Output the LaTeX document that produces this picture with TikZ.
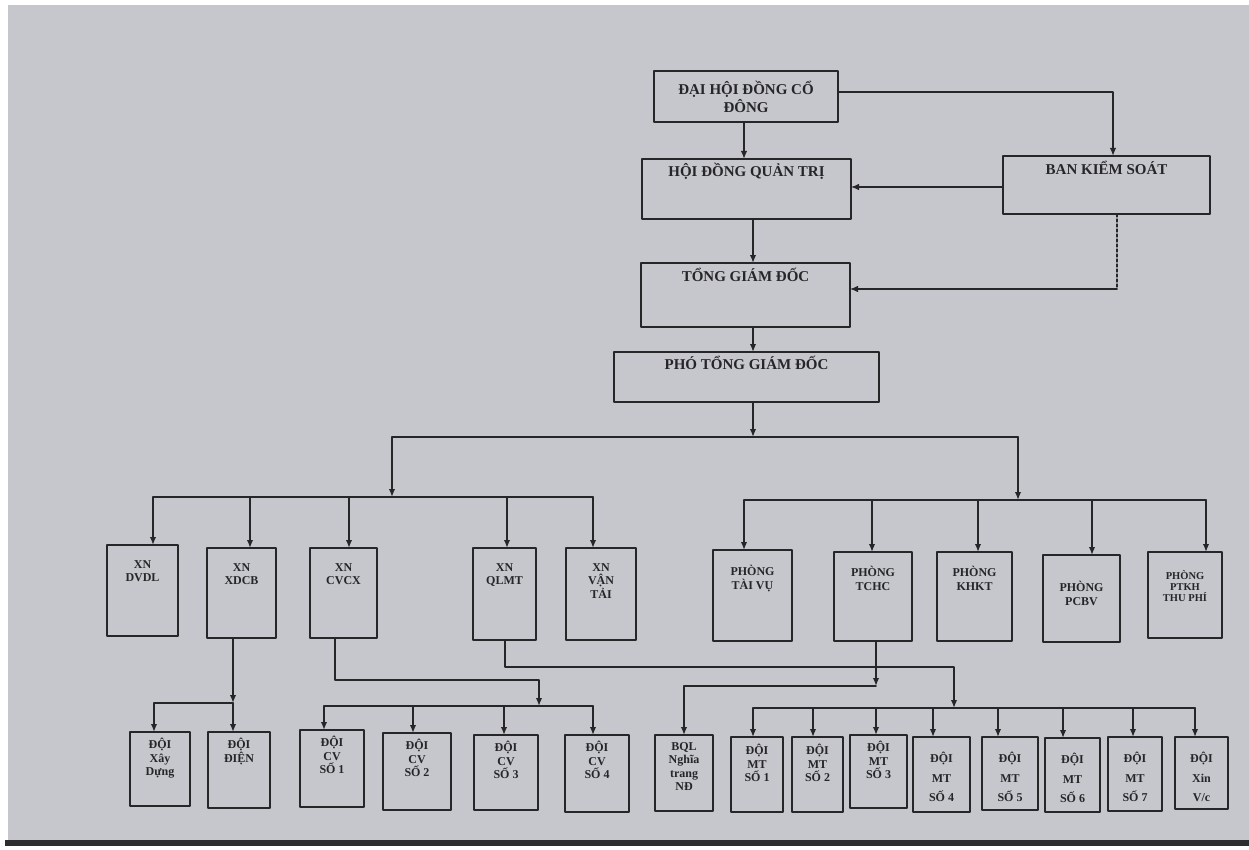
\documentclass[tikz,border=0pt]{standalone}
\usepackage{fontspec}
\setmainfont{Liberation Serif}
\usetikzlibrary{arrows.meta}
\definecolor{paper}{RGB}{198,199,205}
\definecolor{ink}{RGB}{38,38,40}
\definecolor{edge}{RGB}{45,45,48}
\newcommand{\toptext}{\fontsize{15}{18}\selectfont\bfseries}
\newcommand{\unittext}{\fontsize{12}{13.5}\selectfont\bfseries}
\begin{document}
\begin{tikzpicture}[x=1pt, y=-1pt, line join=round, line cap=round, >={Latex[length=8pt,width=6.5pt]},
	ubox/.style 2 args={draw=ink, line width=2pt, anchor=north west, minimum width=#1pt, minimum height=#2pt, inner sep=0pt, outer sep=0pt},
	ttxt/.style={anchor=north, align=center, font=\toptext, text=ink},
	utxt/.style={anchor=north, align=center, font=\unittext, text=ink},
	link/.style={draw=ink, line width=1.8pt},
	thinlink/.style={draw=ink, line width=1.1pt}]
	\useasboundingbox (0,0) rectangle (1249,850);
	% scanned sheet
	\fill[white] (0,0) rectangle (1249,850);
	\fill[paper] (8,5) rectangle (1249,840);
	\fill[edge] (5,840) rectangle (1249,846);
	% top levels
	\node[ubox={184}{51}, font=\toptext, text=ink, align=center] (dhdcd) at (654,71) {ĐẠI HỘI ĐỒNG CỔ\\ĐÔNG};
	\node[ubox={209}{60}, label={[ttxt,yshift=-1pt]north:HỘI ĐỒNG QUẢN TRỊ}] (hdqt) at (642,159) {};
	\node[ubox={207}{58}, label={[ttxt,yshift=-2pt]north:BAN KIỂM SOÁT}] (bks) at (1003,156) {};
	\node[ubox={209}{64}, label={[ttxt,yshift=-2pt]north:TỔNG GIÁM ĐỐC}] (tgd) at (641,263) {};
	\node[ubox={265}{50}, label={[ttxt,yshift=-1pt]north:PHÓ TỔNG GIÁM ĐỐC}] (ptgd) at (614,352) {};
	% xi nghiep
	\node[ubox={71}{91}, label={[utxt,yshift=-12pt]north:{XN\\DVDL}}] (dvdl) at (107,545) {};
	\node[ubox={69}{90}, label={[utxt,yshift=-12pt]north:{XN\\XDCB}}] (xdcb) at (207,548) {};
	\node[ubox={67}{90}, label={[utxt,yshift=-12pt]north:{XN\\CVCX}}] (cvcx) at (310,548) {};
	\node[ubox={63}{92}, label={[utxt,yshift=-12pt]north:{XN\\QLMT}}] (qlmt) at (473,548) {};
	\node[ubox={70}{92}, label={[utxt,yshift=-12pt]north:{XN\\VẬN\\TẢI}}] (vantai) at (566,548) {};
	% phong
	\node[ubox={79}{91}, label={[utxt,yshift=-12pt]north:{PHÒNG\\TÀI VỤ}}] (taivu) at (713,550) {};
	\node[ubox={78}{89}, label={[utxt,yshift=-11pt]north:{PHÒNG\\TCHC}}] (tchc) at (834,552) {};
	\node[ubox={75}{89}, label={[utxt,yshift=-11pt]north:{PHÒNG\\KHKT}}] (khkt) at (937,552) {};
	\node[ubox={77}{87}, label={[utxt,yshift=-23pt]north:{PHÒNG\\PCBV}}] (pcbv) at (1043,555) {};
	\node[ubox={74}{86}, label={[utxt,font=\fontsize{10.5}{11}\selectfont\bfseries,yshift=-15pt]north:{PHÒNG\\PTKH\\THU PHÍ}}] (ptkh) at (1148,552) {};
	% doi
	\node[ubox={60}{74}, label={[utxt,yshift=-3pt]north:{ĐỘI\\Xây\\Dựng}}] (xaydung) at (130,732) {};
	\node[ubox={62}{76}, label={[utxt,yshift=-3pt]north:{ĐỘI\\ĐIỆN}}] (dien) at (208,732) {};
	\node[ubox={64}{77}, label={[utxt,yshift=-3pt]north:{ĐỘI\\CV\\SỐ 1}}] (cv1) at (300,730) {};
	\node[ubox={68}{77}, label={[utxt,yshift=-3pt]north:{ĐỘI\\CV\\SỐ 2}}] (cv2) at (383,733) {};
	\node[ubox={64}{75}, label={[utxt,yshift=-3pt]north:{ĐỘI\\CV\\SỐ 3}}] (cv3) at (474,735) {};
	\node[ubox={64}{77}, label={[utxt,yshift=-3pt]north:{ĐỘI\\CV\\SỐ 4}}] (cv4) at (565,735) {};
	\node[ubox={58}{76}, label={[utxt,yshift=-4pt]north:{BQL\\Nghĩa\\trang\\NĐ}}] (bql) at (655,735) {};
	\node[ubox={52}{75}, label={[utxt,yshift=-4pt]north:{ĐỘI\\MT\\SỐ 1}}] (mt1) at (731,737) {};
	\node[ubox={51}{75}, label={[utxt,yshift=-4pt]north:{ĐỘI\\MT\\SỐ 2}}] (mt2) at (792,737) {};
	\node[ubox={57}{73}, label={[utxt,yshift=-3pt]north:{ĐỘI\\MT\\SỐ 3}}] (mt3) at (850,735) {};
	\node[ubox={57}{75}, label={[utxt,yshift=-12pt]north:{ĐỘI\\[6pt]MT\\[6pt]SỐ 4}}] (mt4) at (913,737) {};
	\node[ubox={56}{73}, label={[utxt,yshift=-12pt]north:{ĐỘI\\[6pt]MT\\[6pt]SỐ 5}}] (mt5) at (982,737) {};
	\node[ubox={55}{74}, label={[utxt,yshift=-12pt]north:{ĐỘI\\[6pt]MT\\[6pt]SỐ 6}}] (mt6) at (1045,738) {};
	\node[ubox={54}{74}, label={[utxt,yshift=-12pt]north:{ĐỘI\\[6pt]MT\\[6pt]SỐ 7}}] (mt7) at (1108,737) {};
	\node[ubox={53}{72}, label={[utxt,yshift=-12pt]north:{ĐỘI\\[6pt]Xin\\[6pt]V/c}}] (xin) at (1175,737) {};
	% junctions
	\coordinate (brL) at (392,437); \coordinate (brR) at (1018,437);
	\coordinate (busL) at (153,497); \coordinate (busLe) at (593,497);
	\coordinate (busR) at (744,500); \coordinate (busRe) at (1206,500);
	\coordinate (busXD) at (154,703); \coordinate (busXDe) at (233,703);
	\coordinate (kneeCV) at (539,680); \coordinate (busCV) at (539,706);
	\coordinate (cvL) at (324,706); \coordinate (cvR) at (593,706);
	\coordinate (kneeMT) at (954,667); \coordinate (busMT) at (954,708);
	\coordinate (mtL) at (753,708); \coordinate (mtR) at (1195,708);
	\coordinate (kneeBQL) at (876,686);
	\coordinate (kneeBKS) at (1113,92); \coordinate (kneeTGD) at (1117,289);
	% top links
	\draw[link,->] (744,0 |- dhdcd.south) -- (744,0 |- hdqt.north);
	\draw[link,->] (dhdcd.east |- kneeBKS) -- (kneeBKS) -- (kneeBKS |- bks.north);
	\draw[thinlink,->] (bks.west |- 0,187) -- (hdqt.east |- 0,187);
	\draw[link,->] (753,0 |- hdqt.south) -- (753,0 |- tgd.north);
	\draw[thinlink,dash pattern=on 3pt off 2pt] (kneeTGD |- bks.south) -- (kneeTGD);
	\draw[thinlink,->] (kneeTGD) -- (tgd.east |- kneeTGD);
	\draw[link,->] (753,0 |- tgd.south) -- (753,0 |- ptgd.north);
	\draw[link,->] (753,0 |- ptgd.south) -- (753,0 |- brL);
	\draw[link] (brL) -- (brR);
	\draw[link,->] (brL) -- (brL |- busL);
	\draw[link,->] (brR) -- (brR |- busR);
	% xi nghiep and phong
	\draw[link] (busL) -- (busLe);
	\foreach \n/\x in {dvdl/153, xdcb/250, cvcx/349, qlmt/507, vantai/593}
		\draw[link,->] (\x,0 |- busL) -- (\x,0 |- \n.north);
	\draw[link] (busR) -- (busRe);
	\foreach \n/\x in {taivu/744, tchc/872, khkt/978, pcbv/1092, ptkh/1206}
		\draw[link,->] (\x,0 |- busR) -- (\x,0 |- \n.north);
	% doi
	\draw[link,->] (233,0 |- xdcb.south) -- (busXDe);
	\draw[link] (busXD) -- (busXDe);
	\draw[link,->] (busXD) -- (busXD |- xaydung.north);
	\draw[link,->] (busXDe) -- (busXDe |- dien.north);
	\draw[link,->] (335,0 |- cvcx.south) |- (kneeCV) -- (busCV);
	\draw[link] (cvL) -- (cvR);
	\foreach \n/\x in {cv1/324, cv2/413, cv3/504, cv4/593}
		\draw[link,->] (\x,0 |- cvL) -- (\x,0 |- \n.north);
	\draw[link,->] (505,0 |- qlmt.south) |- (kneeMT) -- (busMT);
	\draw[link,->] (876,0 |- tchc.south) -- (kneeBQL);
	\draw[link,->] (kneeBQL) -| (684,0 |- bql.north);
	\draw[link] (mtL) -- (mtR);
	\foreach \n/\x in {mt1/753, mt2/813, mt3/876, mt4/933, mt5/998, mt6/1063, mt7/1133, xin/1195}
		\draw[link,->] (\x,0 |- mtL) -- (\x,0 |- \n.north);
\end{tikzpicture}
\end{document}
